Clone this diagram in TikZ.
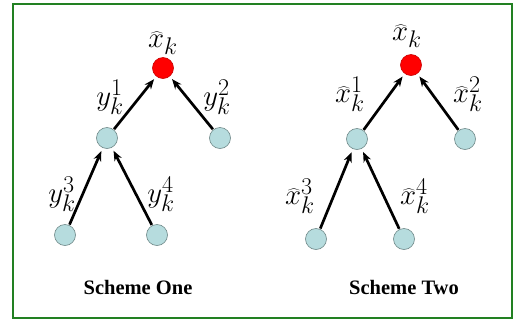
\documentclass[tikz,border=0pt]{standalone}
\usepackage{fontspec}
\newfontfamily\capfont{Liberation Serif}
\usetikzlibrary{arrows.meta}
\definecolor{nodefill}{RGB}{182,220,222}
\definecolor{nodeline}{RGB}{110,135,135}
\definecolor{rootline}{RGB}{200,0,0}
\definecolor{framegreen}{RGB}{34,128,34}
\newcommand{\lbltext}[1]{\scalebox{1.16}{$#1$}}
\begin{document}
\begin{tikzpicture}[x=1pt,y=-1pt,
  leafnode/.style={circle, draw=nodeline, fill=nodefill, minimum size=21pt, inner sep=0pt, line width=0.6pt},
  rootnode/.style={circle, draw=rootline, fill=red, minimum size=21pt, inner sep=0pt, line width=0.6pt},
  mathlbl/.style={font=\Huge, inner sep=0pt},
  captext/.style={font=\capfont\bfseries\fontsize{20.5}{24}\selectfont, inner sep=0pt},
  arr/.style={-{Stealth[length=10pt,width=8pt]}, line width=2.7pt, shorten >=3.5pt, shorten <=0.5pt}
]
\useasboundingbox (0,0) rectangle (515,325);
\fill[white] (0,0) rectangle (515,325);
\draw[framegreen, line width=2pt] (13,4) rectangle (512,318);

% Scheme One
\node[rootnode] (r1) at (163,68) {};
\node[leafnode] (a1) at (107,138) {};
\node[leafnode] (b1) at (220,138) {};
\node[leafnode] (c1) at (65,235) {};
\node[leafnode] (d1) at (157,235) {};
\draw[arr] (a1) -- (r1);
\draw[arr] (b1) -- (r1);
\draw[arr] (c1) -- (a1);
\draw[arr] (d1) -- (a1);
\node[mathlbl] (lr1) at (163,43) {\lbltext{\widehat{x}_k}};
\node[mathlbl] (la1) at (110,97) {\lbltext{y_k^1}};
\node[mathlbl] (lb1) at (217,97) {\lbltext{y_k^2}};
\node[mathlbl] (lc1) at (62,194) {\lbltext{y_k^3}};
\node[mathlbl] (ld1) at (161,194) {\lbltext{y_k^4}};
\node[captext] (cap1) at (138,287) {Scheme One};

% Scheme Two
\node[rootnode] (r2) at (411,65) {};
\node[leafnode] (a2) at (357,139) {};
\node[leafnode] (b2) at (465,139) {};
\node[leafnode] (c2) at (316,239) {};
\node[leafnode] (d2) at (404,239) {};
\draw[arr] (a2) -- (r2);
\draw[arr] (b2) -- (r2);
\draw[arr] (c2) -- (a2);
\draw[arr] (d2) -- (a2);
\node[mathlbl] (lr2) at (407,36) {\lbltext{\widehat{x}_k}};
\node[mathlbl] (la2) at (350,94) {\lbltext{\widehat{x}_k^1}};
\node[mathlbl] (lb2) at (468,94) {\lbltext{\widehat{x}_k^2}};
\node[mathlbl] (lc2) at (300,196) {\lbltext{\widehat{x}_k^3}};
\node[mathlbl] (ld2) at (415,196) {\lbltext{\widehat{x}_k^4}};
\node[captext] (cap2) at (404,287) {Scheme Two};
\end{tikzpicture}
\end{document}
